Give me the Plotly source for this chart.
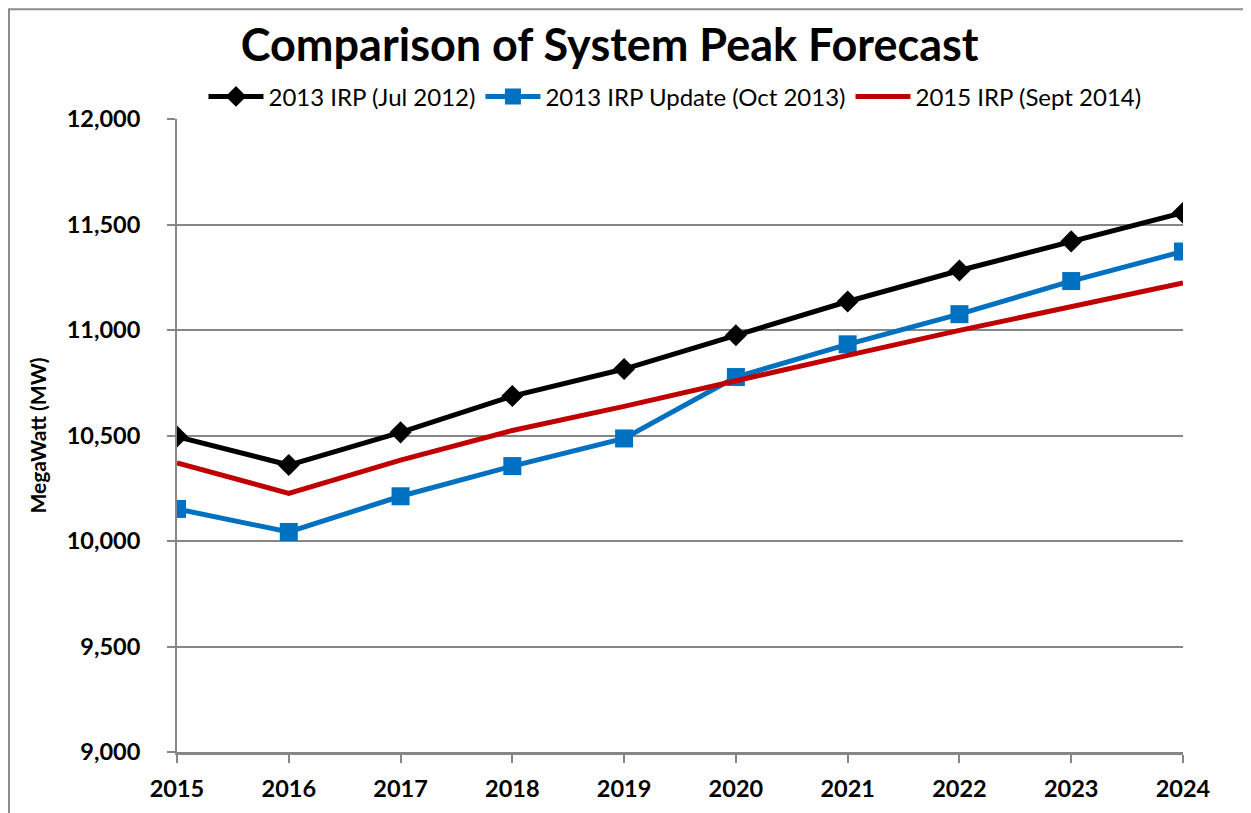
import plotly.graph_objects as go

years = [2015, 2016, 2017, 2018, 2019, 2020, 2021, 2022, 2023, 2024]

irp_2013 = [10495, 10360, 10515, 10687, 10815, 10975, 11135, 11282, 11420, 11556]
irp_2013_update = [10152, 10043, 10212, 10355, 10486, 10777, 10932, 11075, 11232, 11372]
irp_2015 = [10370, 10226, 10383, 10524, 10638, 10762, 10880, 10998, 11112, 11223]

y_ticks = [9000, 9500, 10000, 10500, 11000, 11500, 12000]
y_labels = ["9,000", "9,500", "10,000", "10,500", "11,000", "11,500", "12,000"]

font = "Lato, 'Open Sans', sans-serif"

fig = go.Figure()
fig.add_trace(go.Scatter(
    x=years, y=irp_2013, name="2013 IRP (Jul 2012)",
    mode="lines+markers",
    line=dict(color="#000000", width=5),
    marker=dict(symbol="diamond", size=17, color="#000000"),
))
fig.add_trace(go.Scatter(
    x=years, y=irp_2013_update, name="2013 IRP Update (Oct 2013)",
    mode="lines+markers",
    line=dict(color="#0070C0", width=5),
    marker=dict(symbol="square", size=18, color="#0070C0"),
))
fig.add_trace(go.Scatter(
    x=years, y=irp_2015, name="2015 IRP (Sept 2014)",
    mode="lines",
    line=dict(color="#C00000", width=5),
))

# outer chart border (top and left edges of the figure)
fig.add_shape(type="rect", xref="paper", yref="paper",
              x0=-0.1670, x1=1.2, y0=-0.2, y1=1.1735,
              line=dict(color="#8c8c8c", width=2), layer="below")

fig.update_layout(
    width=1243, height=805,
    margin=dict(l=169, r=68, t=111, b=61),
    paper_bgcolor="white", plot_bgcolor="white",
    font=dict(family=font, color="black"),
    title=dict(text="Comparison of System Peak Forecast",
               x=0.484, xanchor="center", y=0.954, yanchor="middle",
               font=dict(size=45, family=font, weight="bold")),
    legend=dict(orientation="h", x=0.495, xanchor="center", y=1.035, yanchor="middle",
                font=dict(size=24, family=font), itemwidth=55,
                bgcolor="rgba(0,0,0,0)"),
    showlegend=True,
)
fig.update_xaxes(
    range=[2015, 2024], tickvals=years, ticktext=[str(y) for y in years],
    showgrid=False, showline=True, linecolor="#868686", linewidth=3,
    ticks="outside", ticklen=8, tickcolor="#868686", tickwidth=2,
    ticklabelstandoff=6,
    tickfont=dict(size=23.5, family=font, weight="bold"),
    zeroline=False,
)
fig.update_yaxes(
    range=[9000, 12000], tickvals=y_ticks, ticktext=y_labels,
    showgrid=True, gridcolor="#868686", gridwidth=2,
    showline=True, linecolor="#868686", linewidth=2,
    ticks="outside", ticklen=8, tickcolor="#868686", tickwidth=2,
    ticklabelstandoff=22,
    tickfont=dict(size=23.5, family=font, weight="bold"),
    title=dict(text="MegaWatt (MW)", font=dict(size=21, family=font, weight="bold"), standoff=14),
    zeroline=False,
)

fig.write_html("out.html")
